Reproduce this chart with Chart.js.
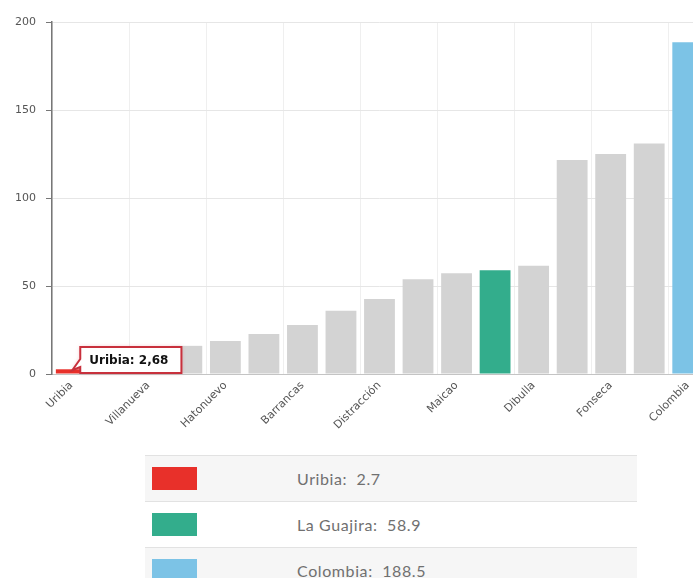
<!DOCTYPE html>
<html>
<head>
<meta charset="utf-8">
<script src="https://cdn.jsdelivr.net/npm/chart.js@4"></script>
<style>
  html, body { margin: 0; padding: 0; background: #fff; width: 693px; height: 578px; overflow: hidden; }
  #wrap { position: absolute; left: 0; top: 0; width: 710px; height: 450px; }
  #leyenda { position: absolute; left: 145px; top: 455px; width: 492px; }
  .fila { height: 45px; border-top: 1px solid #e2e2e2; display: flex; align-items: center; }
  .fila:nth-child(odd) { background: #f6f6f6; }
  .muestra { width: 45px; height: 23px; margin-left: 7px; margin-right: 100px; }
  .texto { font: 16px Lato, "Open Sans", sans-serif; letter-spacing: 0.6px; color: #707070; }
</style>
</head>
<body>
<div id="wrap"><canvas id="grafico" width="710" height="450"></canvas></div>
<div id="leyenda"></div>
<script>
// municipios ordenados de menor a mayor, con el departamento y el país
const municipios = ['Uribia', 'Manaure', 'Villanueva', 'El Molino', 'Hatonuevo', 'Urumita', 'Barrancas',
  'La Jagua del Pilar', 'Distracción', 'Albania', 'Maicao', 'La Guajira', 'Dibulla', 'San Juan del Cesar',
  'Fonseca', 'Riohacha', 'Colombia'];
const valores = [2.68, 10, 14, 16, 18.8, 22.7, 27.8, 36, 42.6, 53.8, 57.2, 58.9, 61.5, 121.6, 125, 131, 188.5];
const destacados = ['Uribia', 'La Guajira', 'Colombia'];
const coloresDestacados = ['#e8302a', '#33ad8c', '#7cc3e6'];
const colorResto = '#d3d3d3';
const yTicks = [0, 50, 100, 150, 200];

const colores = municipios.map(m => {
  const i = destacados.indexOf(m);
  return i >= 0 ? coloresDestacados[i] : colorResto;
});

// etiqueta fija sobre la barra de Uribia
const etiquetaUribia = {
  id: 'etiquetaUribia',
  afterDatasetsDraw(chart) {
    const idx = municipios.indexOf(destacados[0]);
    const bar = chart.getDatasetMeta(0).data[idx];
    const ctx = chart.ctx;
    const texto = municipios[idx] + ': ' + String(valores[idx]).replace('.', ',');
    ctx.save();
    ctx.font = 'bold 12px "DejaVu Sans"';
    const w = ctx.measureText(texto).width + 22;
    const h = 26;
    const left = bar.x + 9;
    const bottom = chart.chartArea.bottom - 1;
    const top = bottom - h;
    const right = left + w;
    ctx.beginPath();
    ctx.moveTo(left, top);
    ctx.lineTo(right, top);
    ctx.lineTo(right, bottom);
    ctx.lineTo(left, bottom);
    ctx.lineTo(left, top + 20);
    ctx.lineTo(bar.x + 1, bar.y + 1);
    ctx.lineTo(left, top + 12);
    ctx.closePath();
    ctx.shadowColor = 'rgba(220,60,70,0.35)';
    ctx.shadowBlur = 4;
    ctx.fillStyle = '#fff';
    ctx.fill();
    ctx.shadowBlur = 0;
    ctx.lineWidth = 2;
    ctx.strokeStyle = '#c8303c';
    ctx.stroke();
    ctx.fillStyle = '#111';
    ctx.textBaseline = 'middle';
    ctx.fillText(texto, left + 9, top + h / 2 + 1);
    ctx.restore();
  }
};

new Chart(document.getElementById('grafico'), {
  type: 'bar',
  data: {
    labels: municipios,
    datasets: [{
      data: valores,
      backgroundColor: colores,
      borderWidth: 0,
      barPercentage: 0.8,
      categoryPercentage: 1
    }]
  },
  options: {
    responsive: false,
    animation: false,
    layout: { padding: { top: 22, right: 3, left: 0, bottom: 0 } },
    plugins: { legend: { display: false }, tooltip: { enabled: false } },
    scales: {
      x: {
        grid: {
          offset: true,
          drawTicks: false,
          color: c => (c.index % 2 === 0 ? '#efefef' : 'rgba(0,0,0,0)')
        },
        border: { color: '#c4c4c4' },
        ticks: {
          autoSkip: false,
          minRotation: 45,
          maxRotation: 45,
          padding: 5,
          color: '#555',
          font: { family: 'DejaVu Sans', size: 11 },
          callback: (v, i) => (i % 2 === 0 ? municipios[i] : '')
        },
        afterFit: s => { s.height = 76; }
      },
      y: {
        min: 0,
        max: 200,
        afterBuildTicks: s => { s.ticks = yTicks.map(v => ({ value: v })); },
        grid: { color: '#e6e6e6', tickLength: 6, tickColor: '#777' },
        border: { color: '#777', width: 1.5 },
        ticks: { padding: 10, color: '#555', font: { family: 'DejaVu Sans', size: 11 } },
        afterFit: s => { s.width = 52; }
      }
    }
  },
  plugins: [etiquetaUribia]
});

// tabla de valores destacados
const leyenda = document.getElementById('leyenda');
destacados.forEach((m, i) => {
  const fila = document.createElement('div');
  fila.className = 'fila';
  const v = valores[municipios.indexOf(m)];
  fila.innerHTML = '<div class="muestra" style="background:' + coloresDestacados[i] + '"></div>' +
    '<span class="texto">' + m + ':&nbsp; ' + v.toFixed(1) + '</span>';
  leyenda.appendChild(fila);
});
</script>
</body>
</html>
